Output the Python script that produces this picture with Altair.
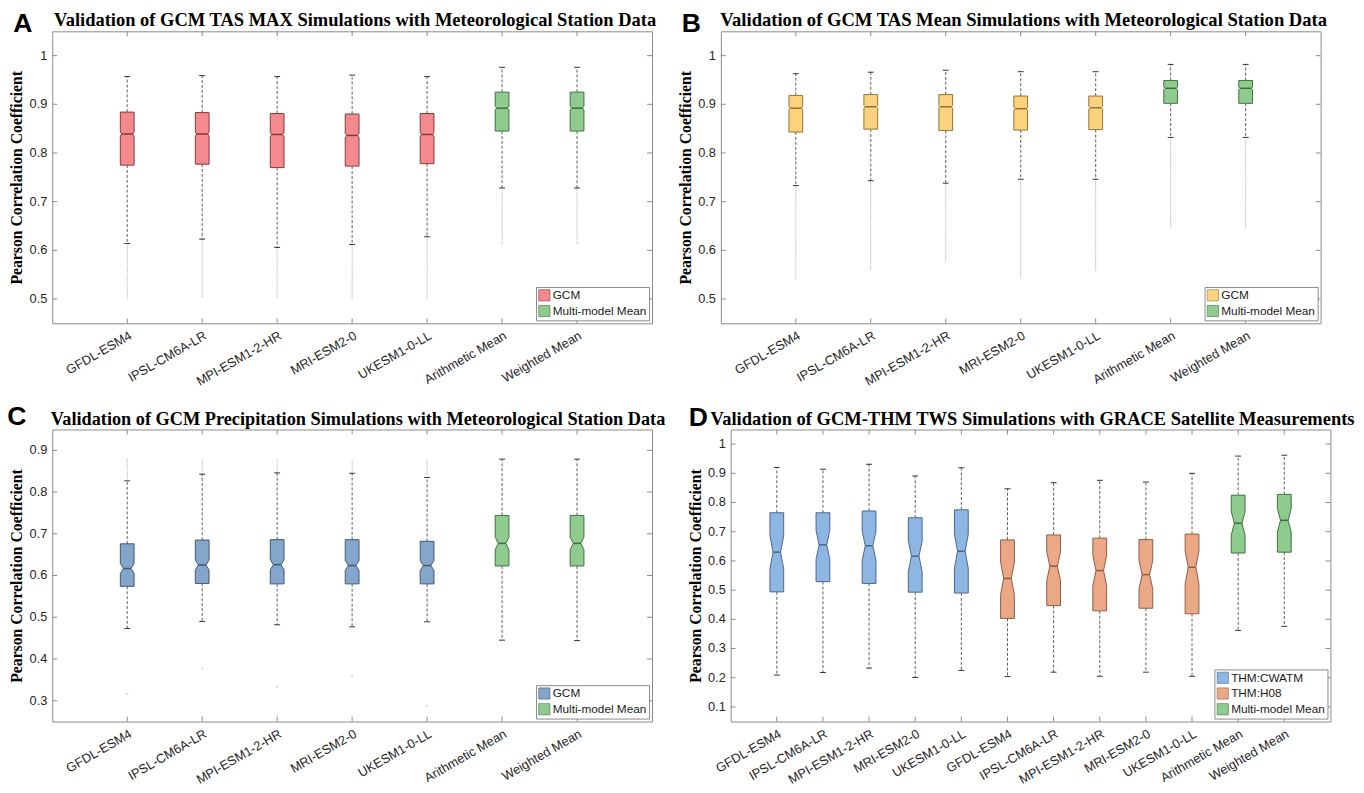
import altair as alt
import pandas as pd

# ---------------- shared categories ----------------
GCM5 = ["GFDL-ESM4", "IPSL-CM6A-LR", "MPI-ESM1-2-HR", "MRI-ESM2-0", "UKESM1-0-LL"]
MEANS = ["Arithmetic Mean", "Weighted Mean"]

# ---------------- Panel A : TAS MAX ----------------
A_models = GCM5 + MEANS
A_groups = ["GCM", "GCM", "GCM", "GCM", "GCM", "Multi-model Mean", "Multi-model Mean"]
A_upper = [0.957, 0.959, 0.957, 0.960, 0.957, 0.976, 0.976]
A_q3 = [0.884, 0.883, 0.881, 0.880, 0.881, 0.925, 0.925]
A_med = [0.839, 0.839, 0.838, 0.836, 0.838, 0.892, 0.892]
A_q1 = [0.775, 0.777, 0.770, 0.773, 0.778, 0.845, 0.845]
A_lower = [0.614, 0.623, 0.606, 0.612, 0.628, 0.728, 0.728]
A_outmin = [0.500, 0.502, 0.502, 0.500, 0.500, 0.612, 0.612]
A_notch = [0.004, 0.004, 0.004, 0.004, 0.004, 0.004, 0.004]

# ---------------- Panel B : TAS Mean ----------------
B_models = GCM5 + MEANS
B_groups = ["GCM", "GCM", "GCM", "GCM", "GCM", "Multi-model Mean", "Multi-model Mean"]
B_upper = [0.963, 0.966, 0.970, 0.967, 0.967, 0.982, 0.982]
B_q3 = [0.918, 0.920, 0.920, 0.917, 0.917, 0.949, 0.949]
B_med = [0.892, 0.895, 0.895, 0.891, 0.893, 0.933, 0.933]
B_q1 = [0.843, 0.849, 0.846, 0.847, 0.848, 0.902, 0.902]
B_lower = [0.733, 0.743, 0.738, 0.746, 0.746, 0.832, 0.832]
B_outmin = [0.540, 0.558, 0.578, 0.540, 0.558, 0.648, 0.648]
B_notch = [0.003, 0.003, 0.003, 0.003, 0.003, 0.003, 0.003]

# ---------------- Panel C : Precipitation ----------------
C_models = GCM5 + MEANS
C_groups = ["GCM", "GCM", "GCM", "GCM", "GCM", "Multi-model Mean", "Multi-model Mean"]
C_upper = [0.827, 0.843, 0.846, 0.845, 0.835, 0.879, 0.879]
C_q3 = [0.676, 0.685, 0.686, 0.686, 0.682, 0.744, 0.744]
C_med = [0.617, 0.625, 0.626, 0.624, 0.624, 0.677, 0.677]
C_q1 = [0.574, 0.581, 0.580, 0.580, 0.580, 0.623, 0.623]
C_lower = [0.473, 0.490, 0.482, 0.477, 0.489, 0.445, 0.444]
C_outmax = [0.880, 0.881, 0.880, 0.878, 0.880, 0.879, 0.879]
C_outlow = [0.316, 0.377, 0.333, 0.358, 0.287]
C_notch = [0.012, 0.012, 0.012, 0.012, 0.012, 0.015, 0.015]

# ---------------- Panel D : TWS vs GRACE ----------------
D_models = GCM5 + GCM5 + MEANS
D_groups = ["THM:CWATM"] * 5 + ["THM:H08"] * 5 + ["Multi-model Mean"] * 2
D_upper = [0.920, 0.914, 0.931, 0.891, 0.919, 0.847, 0.868, 0.876, 0.870, 0.900, 0.959, 0.962]
D_q3 = [0.765, 0.765, 0.771, 0.748, 0.775, 0.672, 0.689, 0.678, 0.673, 0.692, 0.825, 0.828]
D_med = [0.630, 0.655, 0.652, 0.616, 0.633, 0.540, 0.582, 0.567, 0.553, 0.578, 0.729, 0.739]
D_q1 = [0.494, 0.529, 0.523, 0.493, 0.490, 0.403, 0.447, 0.429, 0.438, 0.419, 0.627, 0.630]
D_lower = [0.209, 0.218, 0.233, 0.201, 0.225, 0.204, 0.219, 0.205, 0.219, 0.205, 0.362, 0.376]
D_notch = [0.057, 0.050, 0.050, 0.052, 0.058, 0.055, 0.050, 0.052, 0.049, 0.056, 0.040, 0.040]

# y tick values per panel
AB_ticks = [0.5, 0.6, 0.7, 0.8, 0.9, 1.0]
C_ticks = [0.3, 0.4, 0.5, 0.6, 0.7, 0.8, 0.9]
D_ticks = [0.1, 0.2, 0.3, 0.4, 0.5, 0.6, 0.7, 0.8, 0.9, 1.0]

W, H = 610, 297
BOX_HALF_PX = 7.0
CAP_HALF_PX = 3.0

SERIF = "Liberation Serif"
SANS = "Liberation Sans"


def panel(letter, letter_xy, title, title_size, title_x, models, groups, upper, q3, med, q1, lower,
          notch, notch_depth, ydom, yticks, gdom, fills, strokes, outmin=None, outmax=None, outlow=None):
    n = len(models)
    pos = list(range(1, n + 1))
    step = W / (n + 1)
    hw = BOX_HALF_PX / step
    cap = CAP_HALF_PX / step
    inset = hw * notch_depth

    area_rows, stat_rows = [], []
    for i in range(n):
        c = pos[i]
        prof = [(q1[i], hw), (med[i] - notch[i], hw), (med[i], hw - inset),
                (med[i] + notch[i], hw), (q3[i], hw)]
        for yv, h in prof:
            area_rows.append(dict(box=i, group=groups[i], yv=yv, xl=c - h, xr=c + h))
        stat_rows.append(dict(box=i, group=groups[i], c=c, upper=upper[i], q3=q3[i], med=med[i],
                              q1=q1[i], lower=lower[i], ml=c - (hw - inset), mr=c + (hw - inset),
                              cl=c - cap, cr=c + cap,
                              omin=(outmin[i] if outmin else lower[i]),
                              omax=(outmax[i] if outmax else upper[i])))
    adf = pd.DataFrame(area_rows)
    sdf = pd.DataFrame(stat_rows)

    label_expr = "[" + ",".join("'" + m + "'" for m in models) + "][datum.value-1]"
    xs = alt.Scale(domain=[0, n + 1], nice=False, zero=False)
    ys = alt.Scale(domain=ydom, nice=False, zero=False)
    xax = alt.Axis(values=pos, labelExpr=label_expr, labelAngle=330, labelAlign="right",
                   labelBaseline="top", labelPadding=6, labelOverlap=False, title=None)
    yax = alt.Axis(values=yticks, labels=False, title="Pearson Correlation Coefficient",
                   titleFont=SERIF, titleFontSize=16, titleFontWeight="bold", titleColor="black",
                   titlePadding=28)

    fill_scale = alt.Scale(domain=gdom, range=fills)
    stroke_scale = alt.Scale(domain=gdom, range=strokes)

    base = alt.Chart(sdf)
    layers = []
    # outliers (dense gray traces)
    layers.append(base.mark_rule(color="#a9a9a9", strokeWidth=1, strokeDash=[1, 1]).encode(
        x=alt.X("c:Q", scale=xs, axis=xax), y=alt.Y("lower:Q", scale=ys, axis=yax), y2="omin:Q"))
    layers.append(base.mark_rule(color="#a9a9a9", strokeWidth=1, strokeDash=[1, 1]).encode(
        x="c:Q", y="upper:Q", y2="omax:Q"))
    if outlow:
        odf = pd.DataFrame({"c": pos[:len(outlow)], "v": outlow})
        layers.append(alt.Chart(odf).mark_point(shape="cross", size=6, color="#c8c8c8",
                                                filled=True).encode(x="c:Q", y="v:Q"))
    # whiskers
    layers.append(base.mark_rule(color="#333333", strokeWidth=0.8, strokeDash=[3, 2]).encode(
        x="c:Q", y="q3:Q", y2="upper:Q"))
    layers.append(base.mark_rule(color="#333333", strokeWidth=0.8, strokeDash=[3, 2]).encode(
        x="c:Q", y="q1:Q", y2="lower:Q"))
    # caps
    layers.append(base.mark_rule(color="#333333", strokeWidth=1).encode(
        x="cl:Q", x2="cr:Q", y="upper:Q"))
    layers.append(base.mark_rule(color="#333333", strokeWidth=1).encode(
        x="cl:Q", x2="cr:Q", y="lower:Q"))
    # notched boxes
    layers.append(alt.Chart(adf).mark_area(orient="horizontal", strokeWidth=1, opacity=1).encode(
        y=alt.Y("yv:Q"), x=alt.X("xl:Q", stack=None), x2="xr:Q", detail="box:N",
        fill=alt.Fill("group:N", scale=fill_scale,
                      legend=alt.Legend(title=None, orient="bottom-right")),
        stroke=alt.Stroke("group:N", scale=stroke_scale, legend=None)))
    # medians
    layers.append(base.mark_rule(strokeWidth=1.5).encode(
        x="ml:Q", x2="mr:Q", y="med:Q",
        stroke=alt.Stroke("group:N", scale=stroke_scale, legend=None)))
    # inward ticks + y tick labels
    ytdf = pd.DataFrame({"t": yticks, "lab": [f"{v:g}" for v in yticks]})
    layers.append(alt.Chart(ytdf).mark_rule(color="#8a8a8a").encode(
        y="t:Q", x=alt.value(0), x2=alt.value(5)))
    layers.append(alt.Chart(ytdf).mark_rule(color="#8a8a8a").encode(
        y="t:Q", x=alt.value(W - 5), x2=alt.value(W)))
    layers.append(alt.Chart(ytdf).mark_text(font=SANS, fontSize=13, color="#262626",
                                            align="right", baseline="middle").encode(
        y="t:Q", x=alt.value(-5), text="lab:N"))
    xtdf = pd.DataFrame({"p": pos})
    layers.append(alt.Chart(xtdf).mark_rule(color="#8a8a8a").encode(
        x="p:Q", y=alt.value(0), y2=alt.value(5)))
    layers.append(alt.Chart(xtdf).mark_rule(color="#8a8a8a").encode(
        x="p:Q", y=alt.value(H - 5), y2=alt.value(H)))
    # panel letter and title as text
    ldf = pd.DataFrame({"t": [letter]})
    layers.append(alt.Chart(ldf).mark_text(font=SANS, fontSize=27, fontWeight="bold",
                                           color="black", align="center", baseline="middle").encode(
        text="t:N", x=alt.value(letter_xy[0]), y=alt.value(letter_xy[1])))
    tdf = pd.DataFrame({"t": [title]})
    layers.append(alt.Chart(tdf).mark_text(font=SERIF, fontSize=title_size, fontWeight="bold",
                                           color="black", align="center", baseline="alphabetic").encode(
        text="t:N", x=alt.value(title_x), y=alt.value(-5)))

    return alt.layer(*layers).properties(width=W, height=H)


GREEN, GREEN_E = "#8fcb8f", "#3f6f3f"

pA = panel("A", (-30, -7), "Validation of GCM TAS MAX Simulations with Meteorological Station Data",
           18.8, W / 2 + 3,
           A_models, A_groups, A_upper, A_q3, A_med, A_q1, A_lower, A_notch, 0.2,
           [0.45, 1.05], AB_ticks,
           ["GCM", "Multi-model Mean"], ["#f4898e", GREEN], ["#7d3a3d", GREEN_E], outmin=A_outmin)
pB = panel("B", (-30, -7), "Validation of GCM TAS Mean Simulations with Meteorological Station Data",
           18.9, W / 2 + 3,
           B_models, B_groups, B_upper, B_q3, B_med, B_q1, B_lower, B_notch, 0.2,
           [0.45, 1.05], AB_ticks,
           ["GCM", "Multi-model Mean"], ["#fdd27f", GREEN], ["#8f7433", GREEN_E], outmin=B_outmin)
pC = panel("C", (-36, -13), "Validation of GCM Precipitation Simulations with Meteorological Station Data",
           18.6, W / 2 + 6,
           C_models, C_groups, C_upper, C_q3, C_med, C_q1, C_lower, C_notch, 0.45,
           [0.25, 0.95], C_ticks,
           ["GCM", "Multi-model Mean"], ["#84a6ca", GREEN], ["#3e5672", GREEN_E],
           outmax=C_outmax, outlow=C_outlow)
pD = panel("D", (-33, -12), "Validation of GCM-THM TWS Simulations with GRACE Satellite Measurements",
           18.8, W / 2 + 2,
           D_models, D_groups, D_upper, D_q3, D_med, D_q1, D_lower, D_notch, 0.45,
           [0.05, 1.05], D_ticks,
           ["THM:CWATM", "THM:H08", "Multi-model Mean"], ["#8eb6e3", "#eaa886", GREEN],
           ["#48668c", "#8b5c44", GREEN_E])

top = alt.hconcat(pA, pB, spacing=20).resolve_scale(fill="independent", stroke="independent")
bottom = alt.hconcat(pC, pD, spacing=20).resolve_scale(fill="independent", stroke="independent")
chart = alt.vconcat(top, bottom, spacing=13).resolve_scale(
    fill="independent", stroke="independent"
).properties(
    padding={"top": -5, "left": -2, "right": 0, "bottom": 0}
).configure(
    background="white"
).configure_view(
    stroke="#8a8a8a", strokeWidth=1
).configure_axis(
    labelFont=SANS, labelFontSize=13, labelColor="#262626", domain=False, ticks=False, grid=False,
    labelPadding=5, labelOverlap=False
).configure_legend(
    labelFont=SANS, labelFontSize=12, labelColor="#1a1a1a", symbolType="square", symbolSize=130,
    symbolStrokeWidth=0.6, symbolStrokeColor="#777777", strokeColor="#8a8a8a", fillColor="white",
    padding=2, offset=3, rowPadding=1, labelOffset=2, cornerRadius=0
)

chart.save("out.html", embed_options={"renderer": "svg", "actions": False})
